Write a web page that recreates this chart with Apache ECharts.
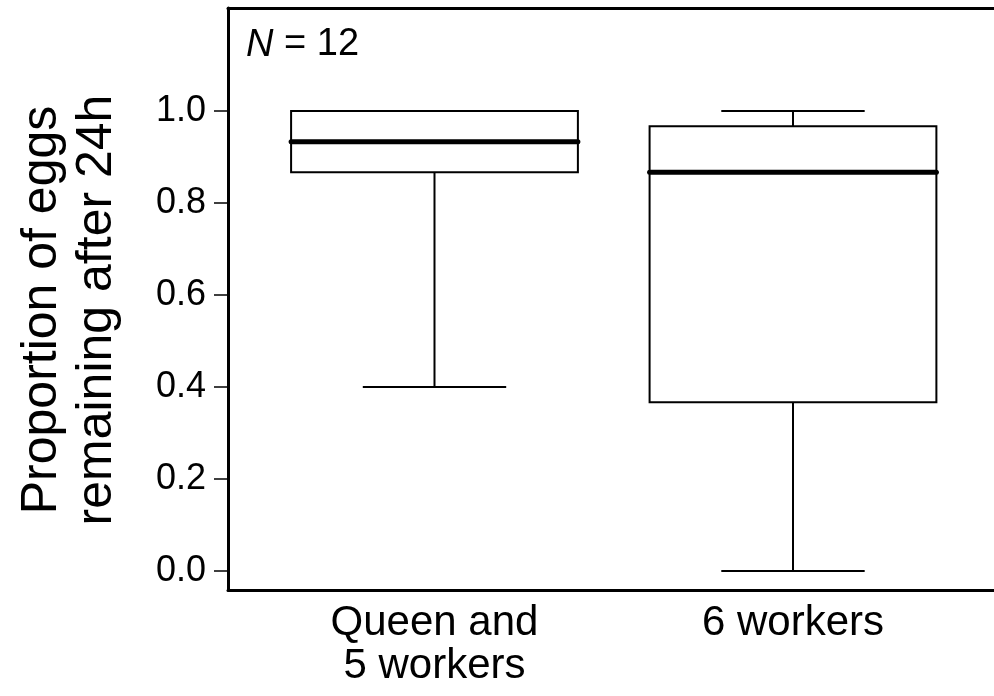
<!DOCTYPE html>
<html>
<head>
<meta charset="utf-8">
<script src="https://cdn.jsdelivr.net/npm/echarts@6/dist/echarts.min.js"></script>
<style>
  html, body { margin: 0; padding: 0; background: #fff; }
  #chart { width: 994px; height: 696px; }
</style>
</head>
<body>
<div id="chart"></div>
<script>
// Groups on the x axis
const categories = ['Queen and\n5 workers', '6 workers'];
// Box statistics per group: whisker low, Q1, median, Q3, whisker high
const whiskerLow = [0.4, 0.0];
const lowerQuartile = [0.867, 0.367];
const median = [0.933, 0.867];
const upperQuartile = [1.0, 0.967];
const whiskerHigh = [1.0, 1.0];
// Y axis tick values
const yTicks = [0, 0.2, 0.4, 0.6, 0.8, 1.0];
const sampleSize = 12;

const FONT = '"Liberation Sans", Arial, sans-serif';
const X_MIN = 0.424, X_MAX = 2.5607;

const boxData = categories.map((c, i) => [
  i + 1, whiskerLow[i], lowerQuartile[i], median[i], upperQuartile[i], whiskerHigh[i]
]);

const chart = echarts.init(document.getElementById('chart'));

function renderBox(params, api) {
  const x = api.value(0);
  const boxHalf = api.size([0.4, 0])[0];
  const capHalf = api.size([0.2, 0])[0];
  const pLow = api.coord([x, api.value(1)]);
  const pQ1 = api.coord([x, api.value(2)]);
  const pMed = api.coord([x, api.value(3)]);
  const pQ3 = api.coord([x, api.value(4)]);
  const pHigh = api.coord([x, api.value(5)]);
  const cx = pQ1[0];
  const thin = { stroke: '#000', lineWidth: 2, fill: null };
  const children = [
    // lower whisker + cap
    { type: 'line', shape: { x1: cx, y1: pQ1[1], x2: cx, y2: pLow[1] }, style: thin },
    { type: 'line', shape: { x1: cx - capHalf, y1: pLow[1], x2: cx + capHalf, y2: pLow[1] }, style: thin },
    // upper whisker + cap
    { type: 'line', shape: { x1: cx, y1: pQ3[1], x2: cx, y2: pHigh[1] }, style: thin },
    { type: 'line', shape: { x1: cx - capHalf, y1: pHigh[1], x2: cx + capHalf, y2: pHigh[1] }, style: thin },
    // box
    { type: 'rect', shape: { x: cx - boxHalf, y: pQ3[1], width: boxHalf * 2, height: pQ1[1] - pQ3[1] },
      style: { stroke: '#000', lineWidth: 2, fill: '#fff' } },
    // median
    { type: 'line', shape: { x1: cx - boxHalf, y1: pMed[1], x2: cx + boxHalf, y2: pMed[1] },
      style: { stroke: '#000', lineWidth: 5, lineCap: 'round' } }
  ];
  return { type: 'group', children: children };
}

const frameLine = { show: true, onZero: false, lineStyle: { color: '#000', width: 3 } };

chart.setOption({
  animation: false,
  backgroundColor: '#fff',
  grid: { left: 228, top: 8, right: 0, bottom: 106 },
  xAxis: [{
    type: 'value',
    min: X_MIN, max: X_MAX,
    splitLine: { show: false },
    axisLine: frameLine,
    axisTick: { show: false },
    axisLabel: {
      customValues: categories.map((c, i) => i + 1),
      formatter: v => categories[Math.round(v) - 1] || '',
      color: '#000', fontFamily: FONT, fontSize: 42, lineHeight: 43, margin: 12
    }
  }, {
    // top edge of the frame
    type: 'value', position: 'top',
    min: X_MIN, max: X_MAX,
    splitLine: { show: false },
    axisLine: frameLine,
    axisTick: { show: false },
    axisLabel: { show: false }
  }],
  yAxis: {
    type: 'value',
    min: -0.0413, max: 1.224,
    splitLine: { show: false },
    axisLine: frameLine,
    axisTick: { show: true, customValues: yTicks, length: 14, inside: false,
      lineStyle: { color: '#000', width: 1.5 } },
    axisLabel: {
      customValues: yTicks,
      formatter: v => v.toFixed(1),
      color: '#000', fontFamily: FONT, fontSize: 36, margin: 22
    }
  },
  graphic: [
    {
      type: 'text',
      x: 70, y: 310, rotation: Math.PI / 2,
      style: {
        text: 'Proportion of eggs\nremaining after 24h',
        fontFamily: FONT, fontSize: 50, lineHeight: 55,
        fill: '#000', align: 'center', verticalAlign: 'middle'
      }
    },
    {
      type: 'text',
      x: 246, y: 45,
      style: {
        text: '{i|N} = ' + sampleSize,
        rich: { i: { fontStyle: 'italic', fontFamily: FONT, fontSize: 38, fill: '#000' } },
        fontFamily: FONT, fontSize: 38, fill: '#000', align: 'left', verticalAlign: 'middle'
      }
    }
  ],
  series: [{
    type: 'custom',
    renderItem: renderBox,
    data: boxData,
    encode: { x: 0, y: [1, 2, 3, 4, 5] },
    clip: false
  }]
});
</script>
</body>
</html>
